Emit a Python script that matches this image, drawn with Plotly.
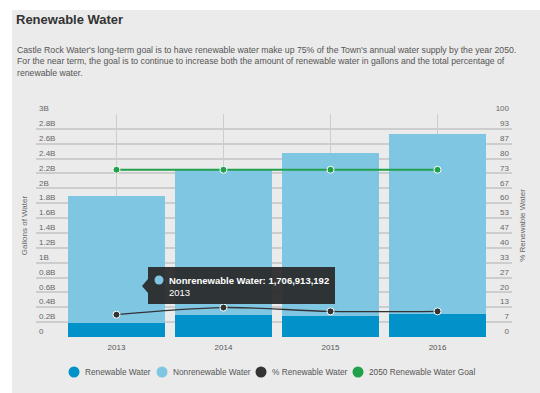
import plotly.graph_objects as go

# ---- data -------------------------------------------------------------
years = ["2013", "2014", "2015", "2016"]
renewable = [190_000_000, 296_000_000, 284_000_000, 315_000_000]
nonrenewable = [1_706_913_192, 1_951_000_000, 2_187_000_000, 2_416_000_000]
pct_renewable = [10.0, 13.2, 11.5, 11.5]
goal_2050 = [75, 75, 75, 75]

gallon_ticks = [i * 200_000_000 for i in range(16)]
gallon_labels = ["0", "0.2B", "0.4B", "0.6B", "0.8B", "1B", "1.2B", "1.4B",
                 "1.6B", "1.8B", "2B", "2.2B", "2.4B", "2.6B", "2.8B", "3B"]
pct_ticks = [i * 100 / 15 for i in range(16)]
pct_labels = ["0", "7", "13", "20", "27", "33", "40", "47", "53", "60",
              "67", "73", "80", "87", "93", "100"]

series_names = ["Renewable Water", "Nonrenewable Water", "% Renewable Water",
                "2050 Renewable Water Goal"]

# ---- styling ----------------------------------------------------------
W, H = 540, 393
PL, PR, PT, PB = 36, 512, 114, 337          # plot area in pixels
C_REN = "#0092c8"
C_NON = "#7fc6e3"
C_PCT = "#333333"
C_GOAL = "#22a04b"
PANEL = "#ebebeb"
TIP_BG = "rgba(40,40,40,0.93)"
FONT = "Liberation Sans, Arial, sans-serif"
GRID = "#cdcdcd"
colors = [C_REN, C_NON, C_PCT, C_GOAL]


def px_x(px):
    return (px - PL) / (PR - PL)


def px_y(py):
    return (PB - py) / (PB - PT)


fig = go.Figure()

fig.add_trace(go.Bar(x=years, y=renewable, name=series_names[0],
                     marker=dict(color=C_REN, line=dict(width=0))))
fig.add_trace(go.Bar(x=years, y=nonrenewable, name=series_names[1],
                     marker=dict(color=C_NON, line=dict(width=0))))
fig.add_trace(go.Scatter(x=years, y=pct_renewable, yaxis="y2",
                         name=series_names[2], mode="lines+markers",
                         line=dict(color=C_PCT, width=1.3, shape="spline"),
                         marker=dict(size=7, color=C_PCT,
                                     line=dict(color="white", width=1))))
fig.add_trace(go.Scatter(x=years, y=goal_2050, yaxis="y2",
                         name=series_names[3], mode="lines+markers",
                         line=dict(color=C_GOAL, width=2),
                         marker=dict(size=7, color=C_GOAL,
                                     line=dict(color="white", width=1))))

shapes = [
    # white page margin left of and above the grey panel
    dict(type="rect", xref="paper", yref="paper", layer="below",
         x0=px_x(0), x1=px_x(12), y0=px_y(H), y1=px_y(0),
         fillcolor="white", line=dict(width=0)),
    dict(type="rect", xref="paper", yref="paper", layer="below",
         x0=px_x(0), x1=px_x(W), y0=px_y(10), y1=px_y(0),
         fillcolor="white", line=dict(width=0)),
    # tooltip box and notch
    dict(type="rect", xref="paper", yref="paper", layer="above",
         x0=px_x(148), x1=px_x(335), y0=px_y(304), y1=px_y(267),
         fillcolor=TIP_BG, line=dict(width=0)),
    dict(type="path", xref="paper", yref="paper", layer="above",
         path="M %f %f L %f %f L %f %f Z" % (
             px_x(148), px_y(279), px_x(142), px_y(286),
             px_x(148), px_y(293)),
         fillcolor=TIP_BG, line=dict(width=0)),
    dict(type="circle", xref="paper", yref="paper", layer="above",
         x0=px_x(154.5), x1=px_x(163.5), y0=px_y(284.5), y1=px_y(275.5),
         fillcolor=C_NON, line=dict(width=0)),
]

annotations = [
    dict(xref="paper", yref="paper", x=px_x(15), y=px_y(43),
         xanchor="left", yanchor="top", align="left", showarrow=False,
         text=("Castle Rock Water's long-term goal is to have renewable water make up 75% of the Town's annual water supply by the year 2050.<br>"
               "For the near term, the goal is to continue to increase both the amount of renewable water in gallons and the total percentage of<br>"
               "renewable water."),
         font=dict(family=FONT, size=8.7, color="#555555")),
    # tooltip text for the 2013 nonrenewable bar
    dict(xref="paper", yref="paper", x=px_x(167), y=px_y(286.5),
         xanchor="left", yanchor="middle", align="left", showarrow=False,
         text="<b>%s: %s</b><br>%s" % (series_names[1],
                                       f"{nonrenewable[0]:,}", years[0]),
         font=dict(family=FONT, size=9.5, color="white")),
]

# legend row
legend_x = [74, 162, 261, 358]
for cx, name, col in zip(legend_x, series_names, colors):
    shapes.append(dict(type="circle", xref="paper", yref="paper",
                       x0=px_x(cx - 5.5), x1=px_x(cx + 5.5),
                       y0=px_y(372 + 5.5), y1=px_y(372 - 5.5),
                       fillcolor=col, line=dict(width=0)))
    annotations.append(dict(xref="paper", yref="paper", x=px_x(cx + 9),
                            y=px_y(372), xanchor="left", yanchor="middle",
                            showarrow=False, text=name,
                            font=dict(family=FONT, size=8.3, color="#555555")))

fig.update_layout(
    width=W, height=H,
    margin=dict(l=PL, r=W - PR, t=PT, b=H - PB, pad=0, autoexpand=False),
    paper_bgcolor=PANEL, plot_bgcolor="rgba(0,0,0,0)",
    font=dict(family=FONT, size=8, color="#666666"),
    barmode="stack", bargap=0.1, showlegend=False,
    title=dict(text="<b>Renewable Water</b>", xref="container", yref="container",
               x=16 / W, y=1 - 19 / H, xanchor="left", yanchor="middle",
               font=dict(family=FONT, size=13, color="#333333")),
    xaxis=dict(type="category", range=[-0.752, 3.696], showgrid=True,
               gridcolor=GRID, gridwidth=1, showline=False, zeroline=False,
               ticks="", ticklabelstandoff=4,
               tickfont=dict(size=8, color="#555555")),
    yaxis=dict(range=[0, 3e9], tickvals=gallon_ticks, ticktext=gallon_labels,
               showgrid=True, gridcolor=GRID, gridwidth=1.5, zeroline=False,
               ticklabelposition="inside top", ticklabeloverflow="allow",
               ticks="", tickfont=dict(size=8, color="#666666"),
               title=dict(text="Gallons of Water", standoff=10,
                          font=dict(size=8, color="#666666"))),
    yaxis2=dict(range=[0, 100], tickvals=pct_ticks, ticktext=pct_labels,
                overlaying="y", side="right", showgrid=False, zeroline=False,
                ticklabelposition="inside top", ticklabeloverflow="allow",
                ticks="", tickfont=dict(size=8, color="#666666"),
                title=dict(text="% Renewable Water", standoff=10,
                           font=dict(size=8, color="#666666"))),
    shapes=shapes, annotations=annotations,
    hovermode=False,
)

fig.write_html("out.html")
